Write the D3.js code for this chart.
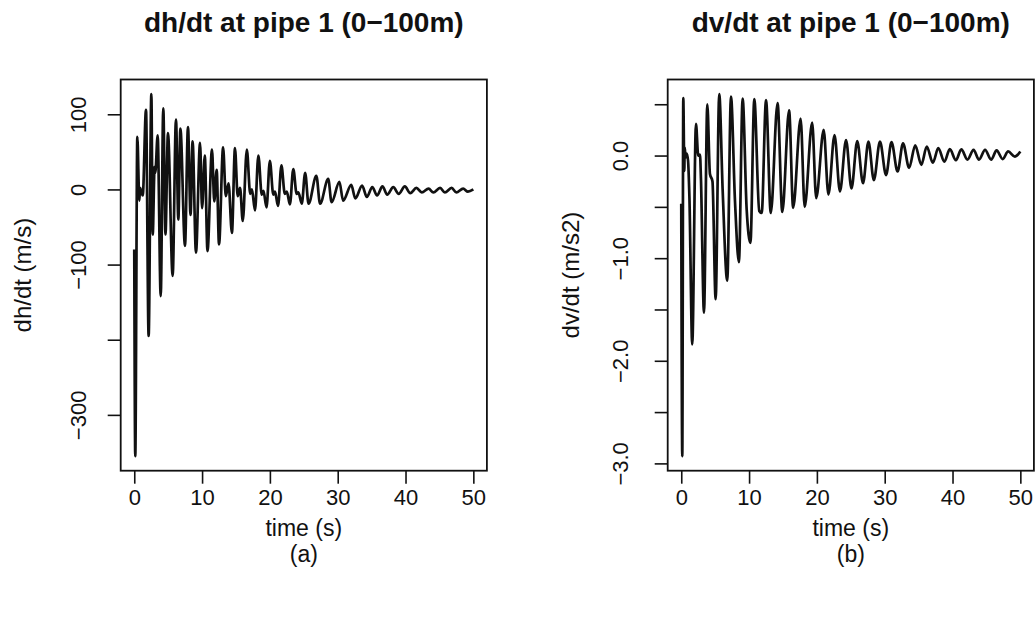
<!DOCTYPE html>
<html>
<head>
<meta charset="utf-8">
<script src="https://cdnjs.cloudflare.com/ajax/libs/d3/7.8.5/d3.min.js"></script>
<style>
  body { margin: 0; background: #fff; }
  text { font-family: "Liberation Sans", Arial, sans-serif; fill: #111; }
</style>
</head>
<body>
<div id="my_dataviz"></div>
<script>
//--- Data ---//
// (a) dh/dt at pipe 1, peaks and troughs
var timeA = [0, 0.15, 0.45, 0.75, 0.85, 1.1, 1.25, 1.73, 2.12, 2.52, 2.72, 3.0, 3.1, 3.45, 3.9, 4.28, 4.6, 4.97,
  5.66, 6.15, 6.5, 6.8, 7.48, 7.92, 8.3, 8.6, 9.1, 9.7, 10.0, 10.4, 10.8, 11.46, 11.8, 12.15, 12.5, 13.1,
  13.5, 13.9, 14.4, 14.85, 15.25, 15.6, 16.0, 16.6, 17.1, 17.35, 17.8, 18.3, 18.8, 19.05, 19.5, 20.0,
  20.5, 20.75, 21.2, 21.7, 22.2, 22.5, 22.95, 23.45, 23.95, 24.2, 24.7, 25.2, 25.7, 26.85, 27.4, 28.6,
  29.1, 30.25, 30.8, 32.0, 32.6, 33.6, 34.3, 35.1, 35.8, 36.6, 37.3, 38.2, 39.0, 39.9, 40.7, 41.6, 42.4,
  43.4, 44.1, 45.1, 45.8, 46.8, 47.5, 48.5, 49.2, 50];
var dhdt = [-80, -355, 70, -15, 2, -5, -8, 106, -195, 127, -60, 30, 22, 72, -142, 108, -60, 75,
  -115, 93, -40, 81, -75, 83, -34, 64, -84, 62, -25, 45, -82, 53, -16, 26, -73, 56,
  -9, 8, -58, 55, -9, 2, -42, 53, -6, 0, -28, 45, -7, -2, -24, 38,
  -7, -3, -22, 32, -6, -3, -20, 27, -6, -4, -19, 22, -19, 18, -19, 14,
  -17, 10, -15, 6, -12, 5, -10, 3, -8, 4, -7, 3, -6, 4, -5, 2, -4,
  1, -4, 2, -4, 2, -4, 1, -3, 0];

// (b) dv/dt at pipe 1, peaks and troughs
var timeB = [0, 0.15, 0.3, 0.45, 0.5, 0.65, 0.8, 1.0, 1.2, 1.62, 2.17, 2.5, 2.76, 2.9, 3.35, 3.84, 4.23, 4.6,
  5.07, 5.6, 6.1, 6.78, 7.33, 7.92, 8.5, 9.05, 9.64, 10.2, 10.77, 11.5, 11.86, 12.5, 13.2, 14.2, 14.9,
  15.9, 16.5, 17.6, 18.2, 19.3, 19.9, 21.0, 21.7, 22.6, 23.4, 24.3, 25.1, 25.95, 26.8, 27.6, 28.4, 29.3,
  30.2, 31.0, 31.9, 32.7, 33.6, 34.5, 35.4, 36.2, 37.1, 37.9, 38.8, 39.6, 40.5, 41.3, 42.2, 43.1, 43.9,
  44.8, 45.7, 46.5, 47.4, 48.2, 49.2, 50];
var dvdt = [-0.47, -2.93, 0.56, -0.15, 0.08, -0.02, 0.02, -0.05, -0.4, -1.84, 0.31, 0.0, 0.01, -0.22, -1.53, 0.5, -0.18, -0.25,
  -1.4, 0.6, -0.33, -1.22, 0.575, -0.44, -1.04, 0.555, -0.52, -0.85, 0.55, -0.54, -0.56, 0.54, -0.56, 0.51, -0.55,
  0.44, -0.51, 0.36, -0.5, 0.32, -0.415, 0.25, -0.38, 0.2, -0.35, 0.15, -0.32, 0.14, -0.27, 0.136, -0.24, 0.136,
  -0.19, 0.13, -0.155, 0.12, -0.12, 0.1, -0.09, 0.088, -0.07, 0.072, -0.06, 0.062, -0.045, 0.06, -0.04, 0.055, -0.04,
  0.055, -0.04, 0.05, -0.035, 0.04, -0.01, 0.04];

// ticks
var xTicks = [0, 10, 20, 30, 40, 50];
var yTicksA = [100, 0, -100, -200, -300];
var yLabelsA = ["100", "0", "\u2212100", "", "\u2212300"];
var yTicksB = [0.5, 0.0, -0.5, -1.0, -1.5, -2.0, -2.5, -3.0];
var yLabelsB = ["", "0.0", "", "\u22121.0", "", "\u22122.0", "", "\u22123.0"];

//SVG object append
var svg = d3.select("#my_dataviz")
  .append("svg")
    .attr("width", 1036)
    .attr("height", 620)
    .style("background", "#fff");

var top_ = 79.5, bottom = 470.7;
var tickFont = 22, labFont = 23;

//--- Function to draw one panel ---//
function drawPanel(p) {
  var ext = d3.extent(p.y);
  var pad = (ext[1] - ext[0]) * 0.04;
  var x = d3.scaleLinear().domain([-2, 52]).range([p.left, p.right]);
  var y = d3.scaleLinear().domain([ext[0] - pad, ext[1] + pad]).range([bottom, top_]);

  //X axis
  var gx = svg.append("g")
    .attr("transform", "translate(0," + bottom + ")")
    .call(d3.axisBottom(x).tickValues(xTicks).tickSize(13).tickPadding(6).tickFormat(d3.format("d")));
  gx.select(".domain").remove();
  gx.selectAll("line").attr("stroke", "#111").attr("stroke-width", 1.6);
  gx.selectAll("text").attr("font-size", tickFont).attr("fill", "#111");

  //Y axis with rotated labels
  var gy = svg.append("g")
    .attr("transform", "translate(" + p.left + ",0)")
    .call(d3.axisLeft(y).tickValues(p.yTicks).tickSize(13).tickFormat(function(d, i) { return p.yLabels[i]; }));
  gy.select(".domain").remove();
  gy.selectAll("line").attr("stroke", "#111").attr("stroke-width", 1.6);
  gy.selectAll("text")
    .attr("transform", "rotate(-90)")
    .attr("x", 0)
    .attr("y", -p.labelOff)
    .attr("dy", 0)
    .attr("text-anchor", "middle")
    .attr("font-size", tickFont)
    .attr("fill", "#111");

  //Box
  svg.append("rect")
    .attr("x", p.left).attr("y", top_)
    .attr("width", p.right - p.left).attr("height", bottom - top_)
    .attr("fill", "none").attr("stroke", "#111").attr("stroke-width", 1.8);

  //Line
  var pts = p.t.map(function(d, i) { return [d, p.y[i]]; });
  svg.append("path")
    .datum(pts)
    .attr("fill", "none")
    .attr("stroke", "#111")
    .attr("stroke-width", 2.7)
    .attr("stroke-linejoin", "round")
    .attr("d", d3.line()
      .curve(d3.curveMonotoneX)
      .x(function(d) { return x(d[0]); })
      .y(function(d) { return y(d[1]); }));

  var cx = (p.left + p.right) / 2;
  //Title
  svg.append("text")
    .attr("x", cx).attr("y", 32)
    .attr("text-anchor", "middle")
    .attr("font-size", 28)
    .attr("font-weight", "bold")
    .text(p.title);
  //X label and panel tag
  svg.append("text")
    .attr("x", cx).attr("y", 536)
    .attr("text-anchor", "middle")
    .attr("font-size", labFont)
    .text("time (s)");
  svg.append("text")
    .attr("x", cx).attr("y", 562)
    .attr("text-anchor", "middle")
    .attr("font-size", labFont)
    .text(p.tag);
  //Y label
  svg.append("text")
    .attr("transform", "translate(" + p.ylabX + "," + ((top_ + bottom) / 2) + ") rotate(-90)")
    .attr("text-anchor", "middle")
    .attr("font-size", 24)
    .text(p.ylab);
}

drawPanel({t: timeA, y: dhdt, left: 120.7, right: 486.9, yTicks: yTicksA, yLabels: yLabelsA, labelOff: 35,
  title: "dh/dt at pipe 1 (0\u2212100m)", ylab: "dh/dt (m/s)", ylabX: 31, tag: "(a)"});
drawPanel({t: timeB, y: dvdt, left: 667.7, right: 1033.9, yTicks: yTicksB, yLabels: yLabelsB, labelOff: 40,
  title: "dv/dt at pipe 1 (0\u2212100m)", ylab: "dv/dt (m/s2)", ylabX: 579, tag: "(b)"});
</script>
</body>
</html>
